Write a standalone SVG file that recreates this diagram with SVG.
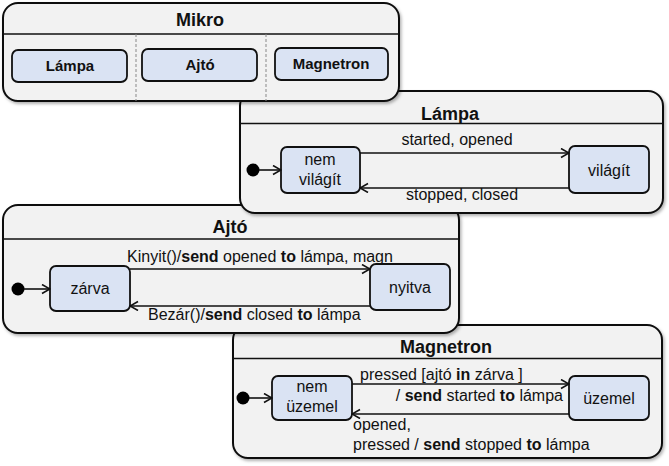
<svg xmlns="http://www.w3.org/2000/svg" width="669" height="466" viewBox="0 0 669 466">
<style>
text{font-family:"Liberation Sans",Arial,sans-serif;fill:#111}
.cont{fill:#f2f2f2;stroke:#111;stroke-width:2}
.hdr{stroke:#111;stroke-width:1.6}
.st{fill:#dae3f3;stroke:#111;stroke-width:1.8}
.title{font-size:18px;font-weight:bold;text-anchor:middle}
.sub{font-size:15px;font-weight:bold;text-anchor:middle}
.stt{font-size:16px;text-anchor:middle}
.lbl{font-size:16px}
.div{stroke:#888;stroke-width:1;stroke-dasharray:3,2}
.edge{fill:none;stroke:#111;stroke-width:1.6;marker-end:url(#arr)}
.init{fill:#000}
</style>
<defs>
<marker id="arr" markerWidth="10" markerHeight="12" refX="9" refY="5" orient="auto" markerUnits="userSpaceOnUse">
<path d="M1,0.5 L9,5 L1,9.5" fill="none" stroke="#111" stroke-width="1.6"/>
</marker>
<filter id="sh" x="-5%" y="-5%" width="110%" height="115%">
<feDropShadow dx="1.5" dy="2" stdDeviation="1.5" flood-color="#000" flood-opacity="0.3"/>
</filter>
</defs>

<g id="magnetron">
<rect class="cont" x="233" y="325" width="429" height="133" rx="15" filter="url(#sh)"/>
<line class="hdr" x1="233" y1="358.5" x2="662" y2="358.5"/>
<text class="title" x="446" y="353">Magnetron</text>
<g id="magnetron-nem-uzemel">
<rect class="st" x="272" y="376" width="80" height="44" rx="6"/>
<text class="stt" x="312" y="392">nem</text>
<text class="stt" x="312" y="412">üzemel</text>
</g>
<g id="magnetron-uzemel">
<rect class="st" x="569" y="376" width="80" height="44" rx="6"/>
<text class="stt" x="609" y="404">üzemel</text>
</g>
<circle class="init" cx="243" cy="398" r="6.5"/>
</g>

<g id="ajto">
<rect class="cont" x="3" y="205" width="456" height="128" rx="15" filter="url(#sh)"/>
<line class="hdr" x1="3" y1="239" x2="459" y2="239"/>
<text class="title" x="230" y="233">Ajtó</text>
<g id="ajto-zarva">
<rect class="st" x="50" y="266" width="80" height="45" rx="6"/>
<text class="stt" x="90" y="294">zárva</text>
</g>
<g id="ajto-nyitva">
<rect class="st" x="370" y="264" width="80" height="46" rx="6"/>
<text class="stt" x="410" y="293">nyitva</text>
</g>
<circle class="init" cx="18" cy="289" r="6.5"/>
</g>

<g id="lampa">
<rect class="cont" x="240" y="91" width="423" height="122" rx="15" filter="url(#sh)"/>
<line class="hdr" x1="240" y1="123.5" x2="663" y2="123.5"/>
<text class="title" x="450" y="120">Lámpa</text>
<g id="lampa-nem-vilagit">
<rect class="st" x="281" y="147" width="79" height="46" rx="6"/>
<text class="stt" x="320" y="165">nem</text>
<text class="stt" x="320" y="185">világít</text>
</g>
<g id="lampa-vilagit">
<rect class="st" x="569" y="146" width="80" height="47" rx="6"/>
<text class="stt" x="609" y="176">világít</text>
</g>
<circle class="init" cx="253" cy="170" r="6.5"/>
</g>

<g id="mikro">
<rect class="cont" x="3" y="3" width="396" height="98" rx="15" filter="url(#sh)"/>
<line class="hdr" x1="3" y1="34" x2="399" y2="34"/>
<text class="title" x="200" y="26">Mikro</text>
<line class="div" x1="136" y1="34" x2="136" y2="101"/>
<line class="div" x1="266" y1="34" x2="266" y2="101"/>
<g id="mikro-lampa">
<rect class="st" x="12" y="50" width="115" height="32" rx="6"/>
<text class="sub" x="70" y="71">Lámpa</text>
</g>
<g id="mikro-ajto">
<rect class="st" x="142" y="49" width="115" height="32" rx="6"/>
<text class="sub" x="200" y="70">Ajtó</text>
</g>
<g id="mikro-magnetron">
<rect class="st" x="275" y="48" width="113" height="32" rx="6"/>
<text class="sub" x="331" y="69">Magnetron</text>
</g>
</g>

<g id="connectors">
<line class="edge" x1="259" y1="170" x2="281" y2="170"/>
<line class="edge" x1="360" y1="153" x2="569" y2="153"/>
<line class="edge" x1="569" y1="188" x2="360" y2="188"/>
<text class="lbl" x="457" y="145" text-anchor="middle">started, opened</text>
<text class="lbl" x="462" y="200" text-anchor="middle">stopped, closed</text>

<line class="edge" x1="24" y1="289" x2="50" y2="289"/>
<line class="edge" x1="130" y1="269" x2="370" y2="269"/>
<line class="edge" x1="370" y1="306" x2="130" y2="306"/>
<text class="lbl" x="127" y="262">Kinyit()/<tspan font-weight="bold">send</tspan> opened <tspan font-weight="bold">to</tspan> lámpa, magn</text>
<text class="lbl" x="148" y="320">Bezár()/<tspan font-weight="bold">send</tspan> closed <tspan font-weight="bold">to</tspan> lámpa</text>

<line class="edge" x1="249" y1="398" x2="272" y2="398"/>
<line class="edge" x1="352" y1="384" x2="569" y2="384"/>
<line class="edge" x1="569" y1="414" x2="352" y2="414"/>
<text class="lbl" x="360" y="380">pressed [ajtó <tspan font-weight="bold">in</tspan> zárva ]</text>
<text class="lbl" x="563" y="401" text-anchor="end">/ <tspan font-weight="bold">send</tspan> started <tspan font-weight="bold">to</tspan> lámpa</text>
<text class="lbl" x="353" y="430">opened,</text>
<text class="lbl" x="353" y="450">pressed / <tspan font-weight="bold">send</tspan> stopped <tspan font-weight="bold">to</tspan> lámpa</text>
</g>
</svg>
